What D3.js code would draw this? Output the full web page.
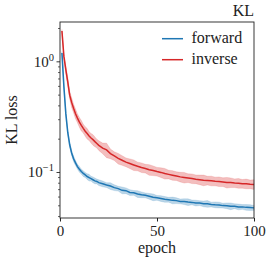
<!DOCTYPE html>
<html>
<head>
<meta charset="utf-8">
<script src="https://cdn.jsdelivr.net/npm/d3@7"></script>
<style>
    body { margin: 0; background: #fff; }
    svg text { font-family: "Liberation Serif", "DejaVu Serif", serif; }
</style>
</head>
<body>
<div id="chart"></div>
<script>
/* global d3 */

var epochs = [1, 2, 3, 4, 5, 6, 7, 8, 9, 10, 11, 12, 13, 14, 15, 16, 17, 18, 19, 20,
    22, 24, 26, 28, 30, 32, 34, 36, 38, 40, 42, 44, 46, 48, 50, 52, 54, 56, 58, 60,
    62, 64, 66, 68, 70, 72, 74, 76, 78, 80, 82, 84, 86, 88, 90, 92, 94, 96, 98, 100];

var forward = [1.20, 0.60, 0.34, 0.23, 0.178, 0.150, 0.133, 0.122, 0.113, 0.107, 0.102, 0.098, 0.095, 0.092, 0.090, 0.088, 0.086, 0.084, 0.083, 0.081,
    0.079, 0.077, 0.0755, 0.073, 0.0715, 0.069, 0.0685, 0.066, 0.0655, 0.064, 0.063, 0.0622, 0.061, 0.0598, 0.059, 0.0583, 0.0572, 0.0568, 0.056, 0.0557,
    0.0548, 0.0546, 0.054, 0.0537, 0.053, 0.0529, 0.0521, 0.0521, 0.0514, 0.0511, 0.0509, 0.0502, 0.0501, 0.0496, 0.0496, 0.0489, 0.0489, 0.0484, 0.0483, 0.0479];

var forwardSpread = [0.03, 0.04, 0.05, 0.05, 0.05, 0.05, 0.06, 0.05, 0.05, 0.06, 0.05, 0.06, 0.05, 0.06, 0.07, 0.05, 0.06, 0.06, 0.05, 0.06,
    0.06, 0.05, 0.07, 0.06, 0.05, 0.07, 0.06, 0.06, 0.05, 0.07, 0.06, 0.05, 0.06, 0.07, 0.05, 0.06, 0.06, 0.05, 0.07, 0.06,
    0.05, 0.06, 0.07, 0.05, 0.06, 0.05, 0.06, 0.07, 0.05, 0.06, 0.06, 0.05, 0.06, 0.07, 0.05, 0.06, 0.05, 0.06, 0.06, 0.05];

var inverse = [1.90, 1.12, 0.85, 0.66, 0.50, 0.43, 0.38, 0.34, 0.31, 0.285, 0.266, 0.25, 0.236, 0.225, 0.214, 0.205, 0.198, 0.190, 0.183, 0.176,
    0.166, 0.160, 0.148, 0.141, 0.134, 0.129, 0.124, 0.1205, 0.117, 0.1138, 0.111, 0.1088, 0.106, 0.1042, 0.102, 0.1002, 0.098, 0.0962, 0.0945, 0.093,
    0.0913, 0.0902, 0.0892, 0.0882, 0.0871, 0.0862, 0.0853, 0.0848, 0.0842, 0.0833, 0.0829, 0.0821, 0.0813, 0.0812, 0.0803, 0.0801, 0.0793, 0.0792, 0.0784, 0.0781];

var inverseSpread = [0.03, 0.06, 0.08, 0.09, 0.08, 0.10, 0.09, 0.10, 0.09, 0.10, 0.11, 0.09, 0.10, 0.11, 0.09, 0.10, 0.11, 0.10, 0.09, 0.10,
    0.11, 0.15, 0.10, 0.09, 0.11, 0.10, 0.09, 0.10, 0.11, 0.09, 0.10, 0.09, 0.11, 0.10, 0.09, 0.10, 0.11, 0.09, 0.10, 0.09,
    0.10, 0.11, 0.09, 0.10, 0.09, 0.10, 0.11, 0.09, 0.10, 0.09, 0.10, 0.09, 0.11, 0.10, 0.09, 0.10, 0.09, 0.10, 0.09, 0.10];

var seriesNames = ["forward", "inverse"];
var colours = ["#1f77b4", "#d62728"];
var xTicks = [0, 50, 100];
var yTicks = [{ v: 1, exp: "0" }, { v: 0.1, exp: "\u22121" }];

var width = 274,
    height = 261,
    margin = { top: 22, right: 20, bottom: 43, left: 60 },
    serif = "'Liberation Serif', 'DejaVu Serif', serif";

var svg = d3.select("#chart").append("svg")
    .attr("width", width)
    .attr("height", height);

var xScale = d3.scaleLinear().domain([0, 100]).range([margin.left, width - margin.right]);
var yScale = d3.scaleLog().domain([0.0388, 2.29]).range([height - margin.bottom, margin.top]);

var table = epochs.map(function (e, i) {
    return {
        epoch: e,
        forward: forward[i], forwardSpread: forwardSpread[i],
        inverse: inverse[i], inverseSpread: inverseSpread[i]
    };
});

// bands + mean lines
seriesNames.forEach(function (name, k) {
    var area = d3.area()
        .x(function (d) { return xScale(d.epoch); })
        .y0(function (d) { return yScale(d[name] * (1 - d[name + "Spread"])); })
        .y1(function (d) { return yScale(d[name] * (1 + d[name + "Spread"])); });

    var line = d3.line()
        .x(function (d) { return xScale(d.epoch); })
        .y(function (d) { return yScale(d[name]); });

    svg.append("path")
        .datum(table)
        .attr("fill", colours[k])
        .attr("fill-opacity", 0.3)
        .attr("stroke", colours[k])
        .attr("stroke-opacity", 0.25)
        .attr("stroke-width", 0.6)
        .attr("d", area);

    svg.append("path")
        .datum(table)
        .attr("fill", "none")
        .attr("stroke", colours[k])
        .attr("stroke-width", 1.5)
        .attr("d", line);
});

// frame
svg.append("rect")
    .attr("x", margin.left)
    .attr("y", margin.top)
    .attr("width", width - margin.left - margin.right)
    .attr("height", height - margin.top - margin.bottom)
    .attr("fill", "none")
    .attr("stroke", "#222")
    .attr("stroke-width", 0.9);

// x axis
var xAxis = svg.append("g")
    .attr("transform", "translate(0," + (height - margin.bottom) + ")")
    .call(d3.axisBottom(xScale).tickValues(xTicks).tickSize(3.5).tickPadding(4).tickFormat(d3.format("d")));
xAxis.attr("font-family", serif).attr("font-size", 15);
xAxis.select(".domain").remove();
xAxis.selectAll("line").attr("stroke", "#222");
xAxis.selectAll("text").attr("fill", "#222");

// y axis minor ticks
var minor = [];
[0.01, 0.1, 1].forEach(function (base) {
    for (var m = 2; m <= 9; m++) {
        var v = base * m;
        if (v > yScale.domain()[0] && v < yScale.domain()[1]) minor.push(v);
    }
});

svg.append("g").selectAll("line")
    .data(minor)
    .enter().append("line")
    .attr("x1", margin.left - 2)
    .attr("x2", margin.left)
    .attr("y1", function (d) { return yScale(d); })
    .attr("y2", function (d) { return yScale(d); })
    .attr("stroke", "#222")
    .attr("stroke-width", 0.7);

var yTick = svg.append("g").selectAll("g")
    .data(yTicks)
    .enter().append("g")
    .attr("transform", function (d) { return "translate(" + margin.left + "," + yScale(d.v) + ")"; });

yTick.append("line")
    .attr("x1", -3.5)
    .attr("x2", 0)
    .attr("stroke", "#222")
    .attr("stroke-width", 0.9);

var yLab = yTick.append("text")
    .attr("x", -6)
    .attr("y", 5)
    .attr("text-anchor", "end")
    .attr("fill", "#222")
    .attr("font-family", serif)
    .attr("font-size", 15);
yLab.append("tspan").text("10");
yLab.append("tspan")
    .attr("dy", -6)
    .attr("font-size", 10.5)
    .text(function (d) { return d.exp; });

// labels
svg.append("text")
    .attr("x", (margin.left + width - margin.right) / 2)
    .attr("y", 253)
    .attr("text-anchor", "middle")
    .attr("fill", "#222")
    .attr("font-family", serif)
    .attr("font-size", 16)
    .text("epoch");

svg.append("text")
    .attr("transform", "translate(17," + ((margin.top + height - margin.bottom) / 2) + ")rotate(-90)")
    .attr("text-anchor", "middle")
    .attr("fill", "#222")
    .attr("font-family", serif)
    .attr("font-size", 16)
    .text("KL loss");

svg.append("text")
    .attr("x", width - margin.right)
    .attr("y", 15.5)
    .attr("text-anchor", "end")
    .attr("fill", "#222")
    .attr("font-family", serif)
    .attr("font-size", 16)
    .text("KL");

// legend
var legend = svg.append("g").selectAll("g")
    .data(seriesNames)
    .enter().append("g")
    .attr("transform", function (d, i) { return "translate(162," + (38.7 + i * 21) + ")"; });

legend.append("line")
    .attr("x1", 0)
    .attr("x2", 21)
    .attr("stroke", function (d, i) { return colours[i]; })
    .attr("stroke-width", 1.5);

legend.append("text")
    .attr("x", 29.5)
    .attr("y", 4.5)
    .attr("fill", "#222")
    .attr("font-family", serif)
    .attr("font-size", 16)
    .text(function (d) { return d; });
</script>
</body>
</html>
